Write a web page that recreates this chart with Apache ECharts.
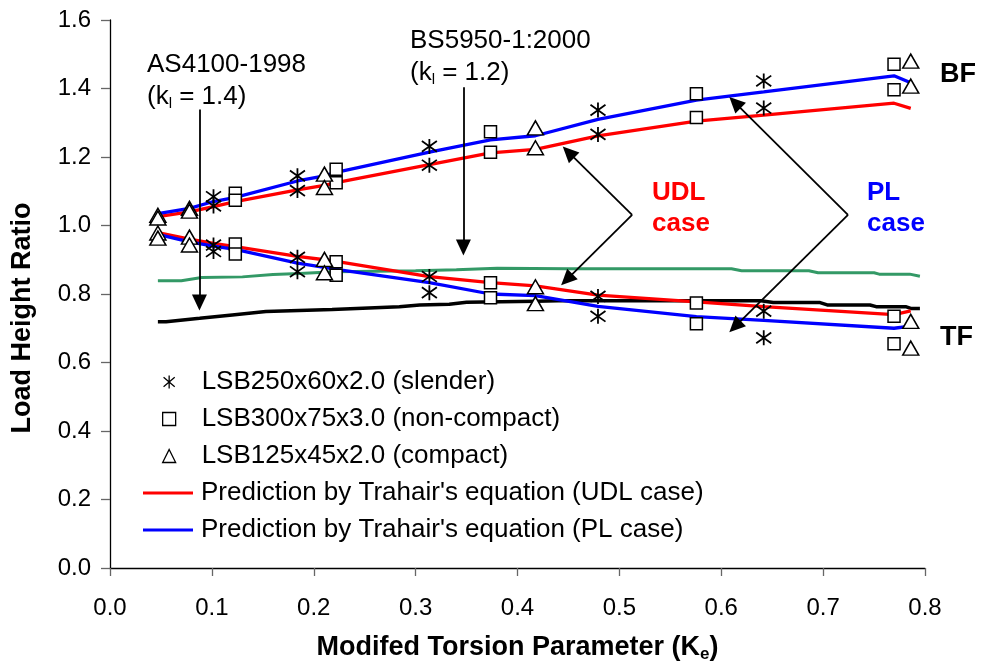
<!DOCTYPE html>
<html>
<head>
<meta charset="utf-8">
<script src="https://cdn.jsdelivr.net/npm/echarts@6/dist/echarts.min.js"></script>
<style>
  html, body { margin: 0; padding: 0; background: #fff; }
  #chart { width: 984px; height: 668px; }
</style>
</head>
<body>
<div id="chart"></div>
<script>
// ---------- data ----------
const xTicks = [0.0, 0.1, 0.2, 0.3, 0.4, 0.5, 0.6, 0.7, 0.8];
const yTicks = [0.0, 0.2, 0.4, 0.6, 0.8, 1.0, 1.2, 1.4, 1.6];

// experimental points: [Ke, load height ratio]
const slenderPts = [
  [0.1016, 1.084], [0.1016, 1.057], [0.1016, 0.943], [0.1016, 0.924],
  [0.184, 1.145], [0.184, 1.102], [0.184, 0.907], [0.184, 0.865],
  [0.3135, 1.231], [0.3135, 1.176], [0.3135, 0.851], [0.3135, 0.804],
  [0.479, 1.337], [0.479, 1.266], [0.479, 0.793], [0.479, 0.735],
  [0.6417, 1.422], [0.6417, 1.343], [0.6417, 0.750], [0.6417, 0.672]
];
const nonCompactPts = [
  [0.123, 1.094], [0.123, 1.074], [0.123, 0.946], [0.123, 0.917],
  [0.222, 1.164], [0.222, 1.125], [0.222, 0.894], [0.222, 0.855],
  [0.3735, 1.274], [0.3735, 1.214], [0.3735, 0.833], [0.3735, 0.789],
  [0.5756, 1.385], [0.5756, 1.315], [0.5756, 0.774], [0.5756, 0.713],
  [0.7696, 1.471], [0.7696, 1.396], [0.7696, 0.735], [0.7696, 0.655]
];
const compactPts = [
  [0.047, 1.030], [0.047, 1.022], [0.047, 0.978], [0.047, 0.963],
  [0.078, 1.050], [0.078, 1.042], [0.078, 0.966], [0.078, 0.943],
  [0.2105, 1.150], [0.2105, 1.111], [0.2105, 0.901], [0.2105, 0.862],
  [0.4176, 1.285], [0.4176, 1.227], [0.4176, 0.821], [0.4176, 0.772],
  [0.786, 1.480], [0.786, 1.407], [0.786, 0.720], [0.786, 0.642]
];

// Trahair's equation predictions
const udlBF = [[0.047,1.026],[0.078,1.040],[0.1016,1.055],[0.123,1.070],[0.184,1.104],[0.2105,1.117],[0.222,1.125],[0.3135,1.178],[0.3735,1.212],[0.4176,1.222],[0.479,1.262],[0.5756,1.305],[0.6417,1.322],[0.7696,1.357],[0.786,1.342]];
const udlTF = [[0.047,0.979],[0.078,0.960],[0.1016,0.948],[0.123,0.938],[0.184,0.910],[0.2105,0.900],[0.222,0.895],[0.3135,0.851],[0.3735,0.833],[0.4176,0.824],[0.479,0.797],[0.5756,0.777],[0.6417,0.763],[0.7696,0.740],[0.786,0.751]];
const plBF  = [[0.047,1.035],[0.078,1.050],[0.1016,1.070],[0.123,1.082],[0.184,1.130],[0.2105,1.145],[0.222,1.155],[0.3135,1.214],[0.3735,1.250],[0.4176,1.262],[0.479,1.310],[0.5756,1.366],[0.6417,1.390],[0.7696,1.437],[0.786,1.417]];
const plTF  = [[0.047,0.974],[0.078,0.952],[0.1016,0.940],[0.123,0.930],[0.184,0.890],[0.2105,0.878],[0.222,0.872],[0.3135,0.833],[0.3735,0.800],[0.4176,0.795],[0.479,0.764],[0.5756,0.734],[0.6417,0.723],[0.7696,0.700],[0.786,0.706]];

// design code lines
const bs5950Line = [[0.047,0.839],[0.07,0.839],[0.09,0.848],[0.13,0.850],[0.16,0.857],[0.186,0.860],[0.22,0.865],[0.30,0.868],[0.34,0.871],[0.38,0.875],[0.45,0.874],[0.61,0.874],[0.62,0.868],[0.686,0.868],[0.695,0.862],[0.75,0.862],[0.755,0.858],[0.785,0.858],[0.795,0.852]];
const as4100Line = [[0.047,0.719],[0.055,0.719],[0.088,0.729],[0.12,0.739],[0.153,0.749],[0.218,0.755],[0.284,0.763],[0.304,0.768],[0.333,0.770],[0.35,0.776],[0.418,0.779],[0.44,0.780],[0.639,0.780],[0.651,0.775],[0.697,0.775],[0.704,0.768],[0.746,0.768],[0.752,0.763],[0.781,0.763],[0.786,0.758],[0.795,0.758]];

// annotation arrows in data coordinates: [from, to]
const annotationArrows = [
  [[0.0878, 1.339], [0.0878, 0.775]],
  [[0.3469, 1.404], [0.3469, 0.936]],
  [[0.5125, 1.031], [0.4500, 1.214]],
  [[0.5125, 1.031], [0.4484, 0.842]],
  [[0.7244, 1.031], [0.6135, 1.359]],
  [[0.7244, 1.031], [0.6135, 0.705]]
];

const seriesNames = {
  slender: 'LSB250x60x2.0 (slender)',
  nonCompact: 'LSB300x75x3.0 (non-compact)',
  compact: 'LSB125x45x2.0 (compact)',
  udl: "Prediction by Trahair's equation (UDL case)",
  pl: "Prediction by Trahair's equation (PL case)"
};

// ---------- chart ----------
const FONT = "'Liberation Sans', Arial, Helvetica, sans-serif";
const chart = echarts.init(document.getElementById('chart'), null, { renderer: 'canvas' });

function lineSeries(name, data, color, z, width) {
  return {
    type: 'line', name: name, data: data, symbol: 'none', showSymbol: false,
    lineStyle: { color: color, width: width || 3 }, itemStyle: { color: color },
    z: z || 2, silent: true
  };
}

const asteriskPath = 'path://M7,0L7,14M1,2L13,12M1,12L13,2';
const legendText = { fontFamily: FONT, fontSize: 26, color: '#000', lineHeight: 26 };

const option = {
  animation: false,
  backgroundColor: '#ffffff',
  grid: { left: 110, right: 59, top: 20, bottom: 100, containLabel: false },
  xAxis: {
    type: 'value', min: 0, max: 0.8, interval: 0.1,
    name: '{a|Modifed Torsion Parameter (K}{s|e}{a|)}',
    nameLocation: 'middle', nameGap: 64,
    nameTextStyle: {
      rich: {
        a: { fontFamily: FONT, fontWeight: 'bold', fontSize: 27, color: '#000', lineHeight: 30 },
        s: { fontFamily: FONT, fontWeight: 'bold', fontSize: 17, color: '#000', padding: [14, 0, 0, 0] }
      }
    },
    axisLine: { show: true, lineStyle: { color: '#000', width: 1.3 } },
    axisTick: { show: true, length: 8, inside: false, lineStyle: { color: '#666', width: 1.3 } },
    axisLabel: { margin: 28, fontFamily: FONT, fontSize: 24, color: '#000',
      formatter: v => xTicks.find(t => Math.abs(t - v) < 1e-9) !== undefined ? v.toFixed(1) : '' },
    splitLine: { show: false }
  },
  yAxis: {
    type: 'value', min: 0, max: 1.6, interval: 0.2,
    axisLine: { show: true, lineStyle: { color: '#000', width: 1.3 } },
    axisTick: { show: true, length: 9, inside: false, lineStyle: { color: '#666', width: 1.3 } },
    axisLabel: { margin: 19, fontFamily: FONT, fontSize: 24, color: '#000',
      formatter: v => yTicks.find(t => Math.abs(t - v) < 1e-9) !== undefined ? v.toFixed(1) : '' },
    splitLine: { show: false }
  },
  legend: [
    {
      orient: 'vertical', left: 157, top: 364,
      itemWidth: 13, itemHeight: 13, itemGap: 11,
      selectedMode: false,
      itemStyle: { borderWidth: 1.3 },
      textStyle: Object.assign({ padding: [0, 0, 0, 21] }, legendText),
      data: [seriesNames.slender, seriesNames.nonCompact, seriesNames.compact]
    },
    {
      orient: 'vertical', left: 138, top: 475,
      itemWidth: 50, itemHeight: 3, itemGap: 11,
      selectedMode: false,
      textStyle: Object.assign({ padding: [0, 0, 0, 3] }, legendText),
      data: [
        { name: seriesNames.udl, icon: 'rect' },
        { name: seriesNames.pl, icon: 'rect' }
      ]
    }
  ],
  graphic: [
    { type: 'text', style: { x: 147, y: 65, text: 'AS4100-1998', font: '26px ' + FONT, fill: '#000', verticalAlign: 'middle' } },
    { type: 'text', style: { x: 147, y: 97, text: '(k{s|l} = 1.4)', font: '26px ' + FONT, fill: '#000', verticalAlign: 'middle',
      rich: { s: { fontSize: 15, fontFamily: FONT, padding: [14, 0, 0, 0] } } } },
    { type: 'text', style: { x: 410, y: 41, text: 'BS5950-1:2000', font: '26px ' + FONT, fill: '#000', verticalAlign: 'middle' } },
    { type: 'text', style: { x: 410, y: 73, text: '(k{s|l} = 1.2)', font: '26px ' + FONT, fill: '#000', verticalAlign: 'middle',
      rich: { s: { fontSize: 15, fontFamily: FONT, padding: [14, 0, 0, 0] } } } },
    { type: 'text', style: { x: 652, y: 193, text: 'UDL', font: 'bold 26px ' + FONT, fill: '#ff0000', verticalAlign: 'middle' } },
    { type: 'text', style: { x: 652, y: 224, text: 'case', font: 'bold 26px ' + FONT, fill: '#ff0000', verticalAlign: 'middle' } },
    { type: 'text', style: { x: 867, y: 193, text: 'PL', font: 'bold 26px ' + FONT, fill: '#0000ff', verticalAlign: 'middle' } },
    { type: 'text', style: { x: 867, y: 224, text: 'case', font: 'bold 26px ' + FONT, fill: '#0000ff', verticalAlign: 'middle' } },
    { type: 'text', style: { x: 940, y: 75, text: 'BF', font: 'bold 27px ' + FONT, fill: '#000', verticalAlign: 'middle' } },
    { type: 'text', style: { x: 940, y: 338, text: 'TF', font: 'bold 27px ' + FONT, fill: '#000', verticalAlign: 'middle' } },
    { type: 'text', x: 23, y: 318, rotation: Math.PI / 2,
      style: { x: 0, y: 0, text: 'Load Height Ratio', font: 'bold 27px ' + FONT, fill: '#000', align: 'center', verticalAlign: 'middle' } }
  ],
  series: [
    lineSeries('BS5950-1:2000', bs5950Line, '#339966', 2, 3),
    lineSeries('AS4100-1998', as4100Line, '#000000', 2, 3.5),
    lineSeries(seriesNames.udl, udlBF, '#ff0000', 3, 3.3),
    lineSeries(seriesNames.udl, udlTF, '#ff0000', 3, 3.3),
    lineSeries(seriesNames.pl, plBF, '#0000ff', 3, 3.3),
    lineSeries(seriesNames.pl, plTF, '#0000ff', 3, 3.3),
    {
      type: 'scatter', name: seriesNames.slender, data: slenderPts, symbol: asteriskPath, symbolSize: 15,
      itemStyle: { color: 'rgba(255,255,255,0)', borderColor: '#000', borderWidth: 1.8, opacity: 1 }, z: 5, silent: true
    },
    {
      type: 'scatter', name: seriesNames.nonCompact, data: nonCompactPts, symbol: 'rect', symbolSize: 12,
      itemStyle: { color: '#fff', borderColor: '#000', borderWidth: 1.5, opacity: 1 }, z: 5, silent: true
    },
    {
      type: 'scatter', name: seriesNames.compact, data: compactPts, symbol: 'triangle', symbolSize: [16, 14],
      itemStyle: { color: '#fff', borderColor: '#000', borderWidth: 1.5, opacity: 1 }, z: 5, silent: true
    },
    {
      type: 'line', name: 'arrows', data: [], silent: true, z: 6,
      markLine: {
        silent: true, animation: false,
        symbol: ['none', 'triangle'], symbolSize: [15, 16],
        label: { show: false },
        lineStyle: { color: '#000', width: 1.8, type: 'solid' },
        emphasis: { disabled: true },
        data: annotationArrows.map(a => [{ coord: a[0] }, { coord: a[1] }])
      }
    }
  ]
};
chart.setOption(option);
</script>
</body>
</html>
